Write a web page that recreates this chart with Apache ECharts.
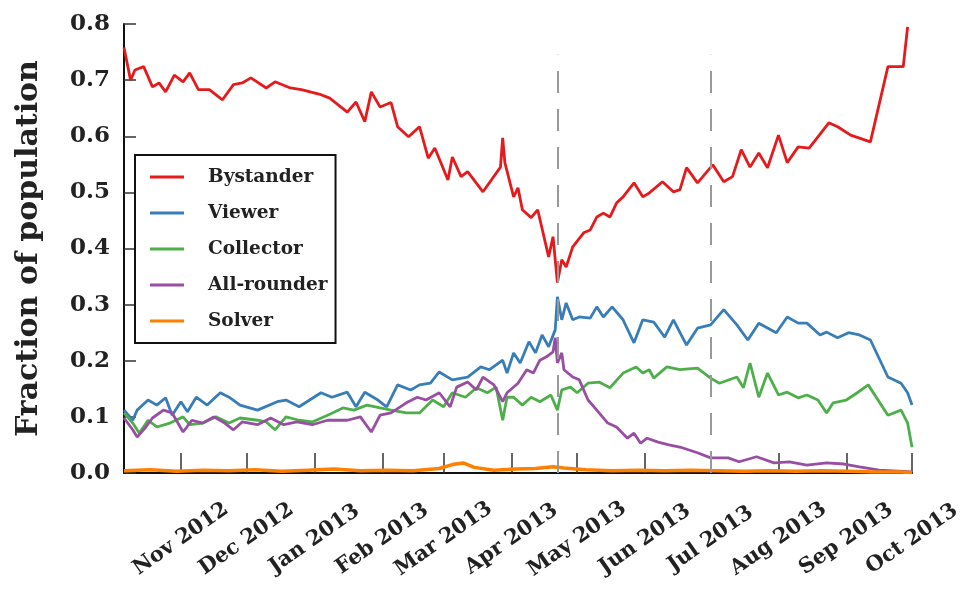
<!DOCTYPE html>
<html>
<head>
<meta charset="utf-8">
<title>Fraction of population by player type</title>
<script src="https://cdn.jsdelivr.net/npm/echarts@6/dist/echarts.min.js"></script>
<style>
  html, body { margin: 0; padding: 0; background: #ffffff; }
  #chart { width: 969px; height: 597px; }
</style>
</head>
<body>
<div id="chart"></div>
<script>
// Month ticks along the time axis and their labels
const monthTicks = ['2012-11-01', '2012-12-01', '2013-01-01', '2013-02-01', '2013-03-01', '2013-04-01',
  '2013-05-01', '2013-06-01', '2013-07-01', '2013-08-01', '2013-09-01', '2013-10-01'];
const monthLabels = ['Nov 2012', 'Dec 2012', 'Jan 2013', 'Feb 2013', 'Mar 2013', 'Apr 2013',
  'May 2013', 'Jun 2013', 'Jul 2013', 'Aug 2013', 'Sep 2013', 'Oct 2013'];
const yTicks = [0, 0.1, 0.2, 0.3, 0.4, 0.5, 0.6, 0.7, 0.8];
const dateRange = ['2012-10-06', '2013-10-01'];

// Dates marked with dashed vertical lines
const eventDates = ['2013-04-22', '2013-07-01'];

const seriesNames = ['Bystander', 'Viewer', 'Collector', 'All-rounder', 'Solver'];

const bystander = [
  ['2012-10-06', 0.758], ['2012-10-09', 0.700], ['2012-10-11', 0.718], ['2012-10-15', 0.724],
  ['2012-10-19', 0.688], ['2012-10-22', 0.695], ['2012-10-25', 0.679], ['2012-10-29', 0.709],
  ['2012-11-02', 0.697], ['2012-11-05', 0.713], ['2012-11-09', 0.683], ['2012-11-14', 0.683],
  ['2012-11-20', 0.665], ['2012-11-25', 0.692], ['2012-11-29', 0.695], ['2012-12-03', 0.704],
  ['2012-12-10', 0.686], ['2012-12-14', 0.697], ['2012-12-21', 0.686], ['2012-12-26', 0.683],
  ['2013-01-04', 0.674], ['2013-01-08', 0.668], ['2013-01-16', 0.643], ['2013-01-20', 0.661],
  ['2013-01-24', 0.626], ['2013-01-27', 0.679], ['2013-01-31', 0.652], ['2013-02-05', 0.660],
  ['2013-02-08', 0.617], ['2013-02-13', 0.599], ['2013-02-18', 0.617], ['2013-02-22', 0.561],
  ['2013-02-25', 0.579], ['2013-03-03', 0.522], ['2013-03-05', 0.563], ['2013-03-09', 0.528],
  ['2013-03-12', 0.537], ['2013-03-19', 0.501], ['2013-03-27', 0.545], ['2013-03-28', 0.597],
  ['2013-03-29', 0.553], ['2013-04-02', 0.492], ['2013-04-04', 0.508], ['2013-04-06', 0.469],
  ['2013-04-10', 0.455], ['2013-04-13', 0.469], ['2013-04-18', 0.385], ['2013-04-20', 0.421],
  ['2013-04-22', 0.339], ['2013-04-24', 0.380], ['2013-04-26', 0.367], ['2013-04-29', 0.403],
  ['2013-05-04', 0.428], ['2013-05-07', 0.433], ['2013-05-10', 0.456], ['2013-05-13', 0.463],
  ['2013-05-16', 0.456], ['2013-05-19', 0.481], ['2013-05-22', 0.492], ['2013-05-27', 0.517],
  ['2013-05-31', 0.492], ['2013-06-03', 0.499], ['2013-06-09', 0.519], ['2013-06-14', 0.501],
  ['2013-06-17', 0.505], ['2013-06-20', 0.544], ['2013-06-25', 0.517], ['2013-07-02', 0.549],
  ['2013-07-07', 0.519], ['2013-07-11', 0.528], ['2013-07-15', 0.576], ['2013-07-19', 0.545],
  ['2013-07-23', 0.570], ['2013-07-27', 0.544], ['2013-08-01', 0.602], ['2013-08-05', 0.553],
  ['2013-08-10', 0.581], ['2013-08-15', 0.579], ['2013-08-24', 0.624], ['2013-08-28', 0.617],
  ['2013-09-03', 0.602], ['2013-09-12', 0.590], ['2013-09-20', 0.724], ['2013-09-27', 0.724],
  ['2013-09-29', 0.795]
];

const viewer = [
  ['2012-10-06', 0.112], ['2012-10-10', 0.094], ['2012-10-12', 0.112], ['2012-10-17', 0.130],
  ['2012-10-21', 0.121], ['2012-10-25', 0.134], ['2012-10-28', 0.103], ['2012-11-01', 0.127],
  ['2012-11-04', 0.109], ['2012-11-08', 0.135], ['2012-11-13', 0.121], ['2012-11-19', 0.143],
  ['2012-11-23', 0.135], ['2012-11-28', 0.121], ['2012-12-06', 0.112], ['2012-12-15', 0.127],
  ['2012-12-19', 0.130], ['2012-12-25', 0.118], ['2013-01-04', 0.143], ['2013-01-09', 0.135],
  ['2013-01-16', 0.144], ['2013-01-20', 0.118], ['2013-01-24', 0.144], ['2013-01-30', 0.130],
  ['2013-02-03', 0.118], ['2013-02-08', 0.157], ['2013-02-14', 0.148], ['2013-02-18', 0.157],
  ['2013-02-23', 0.160], ['2013-02-27', 0.180], ['2013-03-05', 0.166], ['2013-03-12', 0.171],
  ['2013-03-18', 0.189], ['2013-03-22', 0.184], ['2013-03-28', 0.201], ['2013-03-30', 0.178],
  ['2013-04-02', 0.214], ['2013-04-05', 0.196], ['2013-04-09', 0.234], ['2013-04-12', 0.214],
  ['2013-04-15', 0.246], ['2013-04-18', 0.225], ['2013-04-21', 0.255], ['2013-04-22', 0.314],
  ['2013-04-24', 0.273], ['2013-04-26', 0.303], ['2013-04-29', 0.273], ['2013-05-02', 0.278],
  ['2013-05-07', 0.276], ['2013-05-10', 0.296], ['2013-05-13', 0.278], ['2013-05-17', 0.296],
  ['2013-05-22', 0.273], ['2013-05-27', 0.232], ['2013-05-31', 0.273], ['2013-06-05', 0.269],
  ['2013-06-10', 0.242], ['2013-06-14', 0.273], ['2013-06-20', 0.228], ['2013-06-25', 0.258],
  ['2013-07-01', 0.264], ['2013-07-07', 0.291], ['2013-07-13', 0.264], ['2013-07-18', 0.237],
  ['2013-07-23', 0.267], ['2013-07-31', 0.250], ['2013-08-05', 0.278], ['2013-08-10', 0.267],
  ['2013-08-14', 0.267], ['2013-08-20', 0.246], ['2013-08-23', 0.251], ['2013-08-28', 0.241],
  ['2013-09-02', 0.250], ['2013-09-07', 0.246], ['2013-09-12', 0.237], ['2013-09-20', 0.171],
  ['2013-09-26', 0.160], ['2013-09-29', 0.143], ['2013-10-01', 0.121]
];

const collector = [
  ['2012-10-06', 0.107], ['2012-10-10', 0.089], ['2012-10-13', 0.071], ['2012-10-17', 0.094],
  ['2012-10-21', 0.082], ['2012-10-27', 0.089], ['2012-11-02', 0.100], ['2012-11-05', 0.086],
  ['2012-11-11', 0.089], ['2012-11-17', 0.100], ['2012-11-23', 0.089], ['2012-11-28', 0.098],
  ['2012-12-06', 0.094], ['2012-12-10', 0.091], ['2012-12-14', 0.077], ['2012-12-19', 0.100],
  ['2012-12-25', 0.094], ['2012-12-31', 0.091], ['2013-01-07', 0.103], ['2013-01-14', 0.116],
  ['2013-01-19', 0.112], ['2013-01-25', 0.121], ['2013-01-31', 0.116], ['2013-02-05', 0.112],
  ['2013-02-12', 0.107], ['2013-02-18', 0.107], ['2013-02-24', 0.130], ['2013-03-01', 0.118],
  ['2013-03-05', 0.143], ['2013-03-11', 0.135], ['2013-03-16', 0.152], ['2013-03-21', 0.143],
  ['2013-03-25', 0.153], ['2013-03-28', 0.094], ['2013-03-30', 0.135], ['2013-04-02', 0.135],
  ['2013-04-06', 0.121], ['2013-04-10', 0.135], ['2013-04-14', 0.127], ['2013-04-19', 0.139],
  ['2013-04-22', 0.112], ['2013-04-24', 0.148], ['2013-04-28', 0.153], ['2013-05-01', 0.143],
  ['2013-05-06', 0.160], ['2013-05-11', 0.162], ['2013-05-16', 0.152], ['2013-05-22', 0.178],
  ['2013-05-28', 0.189], ['2013-05-31', 0.178], ['2013-06-03', 0.184], ['2013-06-05', 0.169],
  ['2013-06-11', 0.189], ['2013-06-17', 0.184], ['2013-06-25', 0.187], ['2013-07-01', 0.169],
  ['2013-07-05', 0.160], ['2013-07-13', 0.171], ['2013-07-16', 0.152], ['2013-07-19', 0.196],
  ['2013-07-23', 0.135], ['2013-07-27', 0.178], ['2013-08-01', 0.139], ['2013-08-05', 0.144],
  ['2013-08-10', 0.134], ['2013-08-14', 0.139], ['2013-08-19', 0.130], ['2013-08-23', 0.107],
  ['2013-08-26', 0.125], ['2013-09-01', 0.130], ['2013-09-06', 0.143], ['2013-09-11', 0.157],
  ['2013-09-20', 0.103], ['2013-09-26', 0.112], ['2013-09-29', 0.089], ['2013-10-01', 0.046]
];

const allRounder = [
  ['2012-10-06', 0.098], ['2012-10-10', 0.077], ['2012-10-12', 0.064], ['2012-10-16', 0.082],
  ['2012-10-19', 0.098], ['2012-10-24', 0.112], ['2012-10-28', 0.107], ['2012-11-02', 0.073],
  ['2012-11-06', 0.094], ['2012-11-11', 0.089], ['2012-11-16', 0.100], ['2012-11-21', 0.089],
  ['2012-11-25', 0.077], ['2012-11-29', 0.091], ['2012-12-06', 0.086], ['2012-12-12', 0.098],
  ['2012-12-18', 0.086], ['2012-12-24', 0.091], ['2012-12-31', 0.086], ['2013-01-07', 0.094],
  ['2013-01-16', 0.094], ['2013-01-22', 0.100], ['2013-01-27', 0.073], ['2013-01-31', 0.103],
  ['2013-02-05', 0.107], ['2013-02-12', 0.125], ['2013-02-17', 0.135], ['2013-02-21', 0.130],
  ['2013-02-27', 0.143], ['2013-03-04', 0.118], ['2013-03-07', 0.153], ['2013-03-12', 0.162],
  ['2013-03-16', 0.148], ['2013-03-19', 0.171], ['2013-03-24', 0.157], ['2013-03-28', 0.127],
  ['2013-03-30', 0.143], ['2013-04-04', 0.160], ['2013-04-08', 0.184], ['2013-04-11', 0.178],
  ['2013-04-14', 0.201], ['2013-04-17', 0.207], ['2013-04-20', 0.216], ['2013-04-21', 0.241],
  ['2013-04-22', 0.196], ['2013-04-24', 0.214], ['2013-04-25', 0.184], ['2013-04-29', 0.171],
  ['2013-05-02', 0.166], ['2013-05-06', 0.130], ['2013-05-10', 0.112], ['2013-05-15', 0.089],
  ['2013-05-19', 0.082], ['2013-05-24', 0.062], ['2013-05-27', 0.071], ['2013-05-30', 0.053],
  ['2013-06-02', 0.062], ['2013-06-07', 0.055], ['2013-06-12', 0.050], ['2013-06-18', 0.045],
  ['2013-06-25', 0.036], ['2013-07-01', 0.027], ['2013-07-09', 0.027], ['2013-07-14', 0.020],
  ['2013-07-22', 0.029], ['2013-07-30', 0.018], ['2013-08-06', 0.020], ['2013-08-14', 0.014],
  ['2013-08-23', 0.018], ['2013-08-31', 0.016], ['2013-09-07', 0.011], ['2013-09-16', 0.005],
  ['2013-10-01', 0.002]
];

const solver = [
  ['2012-10-06', 0.004], ['2012-10-18', 0.006], ['2012-10-30', 0.003], ['2012-11-11', 0.005],
  ['2012-11-23', 0.004], ['2012-12-05', 0.006], ['2012-12-17', 0.003], ['2012-12-29', 0.005],
  ['2013-01-10', 0.007], ['2013-01-22', 0.004], ['2013-02-03', 0.005], ['2013-02-15', 0.004],
  ['2013-02-27', 0.008], ['2013-03-05', 0.015], ['2013-03-10', 0.018], ['2013-03-15', 0.010],
  ['2013-03-24', 0.005], ['2013-04-03', 0.007], ['2013-04-12', 0.008], ['2013-04-20', 0.011],
  ['2013-04-25', 0.009], ['2013-05-05', 0.006], ['2013-05-17', 0.004], ['2013-05-29', 0.005],
  ['2013-06-10', 0.004], ['2013-06-22', 0.005], ['2013-07-04', 0.004], ['2013-07-16', 0.003],
  ['2013-07-28', 0.004], ['2013-08-09', 0.003], ['2013-08-21', 0.004], ['2013-09-02', 0.003],
  ['2013-09-14', 0.002], ['2013-09-26', 0.002], ['2013-10-01', 0.001]
];

const palette = ['#e41a1c', '#377eb8', '#4daf4a', '#984ea3', '#ff7f00'];
const serif = "'DejaVu Serif', 'Liberation Serif', serif";

// Dates are turned into local-time millisecond stamps for a numeric x axis
function toTime(s) {
  const p = s.split('-').map(Number);
  return new Date(p[0], p[1] - 1, p[2]).getTime();
}
const tickTimes = monthTicks.map(toTime);
const asPoints = rows => rows.map(r => [toTime(r[0]), r[1]]);

function lineSeries(name, rows, color, width) {
  return {
    name: name,
    type: 'line',
    data: asPoints(rows),
    showSymbol: false,
    symbol: 'none',
    lineStyle: { color: color, width: width || 2.8 },
    itemStyle: { color: color },
    z: 3
  };
}

const chart = echarts.init(document.getElementById('chart'), null, { renderer: 'canvas' });

chart.setOption({
  backgroundColor: '#ffffff',
  animation: false,
  color: palette,
  grid: { left: 124, right: 57, top: 24, bottom: 124, containLabel: false },
  legend: {
    data: seriesNames,
    orient: 'vertical',
    left: 135,
    top: 155,
    backgroundColor: '#ffffff',
    borderColor: '#111111',
    borderWidth: 2,
    borderRadius: 0,
    padding: [12, 8, 12, 15],
    itemGap: 16,
    itemWidth: 34,
    itemHeight: 3,
    icon: 'rect',
    selectedMode: false,
    textStyle: {
      fontFamily: serif,
      fontWeight: 'bold',
      fontSize: 18.5,
      color: '#222222',
      lineHeight: 20,
      padding: [0, 0, 0, 19]
    }
  },
  xAxis: {
    type: 'value',
    min: toTime(dateRange[0]),
    max: toTime(dateRange[1]),
    axisLine: { show: true, onZero: false, lineStyle: { color: '#111111', width: 2 } },
    axisTick: {
      show: true,
      inside: true,
      length: 20,
      customValues: tickTimes,
      lineStyle: { color: '#333333', width: 1.5 }
    },
    axisLabel: {
      show: true,
      customValues: tickTimes,
      rotate: 35,
      align: 'center',
      verticalAlign: 'middle',
      margin: 66,
      hideOverlap: false,
      fontFamily: serif,
      fontWeight: 'bold',
      fontSize: 21,
      color: '#222222',
      formatter: function (v) {
        let best = 0;
        for (let i = 1; i < tickTimes.length; i++) {
          if (Math.abs(tickTimes[i] - v) < Math.abs(tickTimes[best] - v)) best = i;
        }
        return monthLabels[best];
      }
    },
    splitLine: { show: false }
  },
  yAxis: {
    type: 'value',
    min: 0,
    max: 0.8,
    interval: 0.1,
    name: 'Fraction of population',
    nameLocation: 'middle',
    nameGap: 80,
    nameRotate: 90,
    nameTextStyle: { fontFamily: serif, fontWeight: 'bold', fontSize: 30, color: '#222222' },
    axisLine: { show: true, lineStyle: { color: '#111111', width: 2 } },
    axisTick: { show: true, inside: true, length: 12, lineStyle: { color: '#333333', width: 1.5 } },
    axisLabel: {
      margin: 14,
      fontFamily: serif,
      fontWeight: 'bold',
      fontSize: 23,
      color: '#222222',
      formatter: function (v) {
        const i = yTicks.findIndex(t => Math.abs(t - v) < 1e-9);
        return (i >= 0 ? yTicks[i] : v).toFixed(1);
      }
    },
    splitLine: { show: false }
  },
  series: [
    {
      name: 'events',
      type: 'line',
      data: [],
      z: 1,
      silent: true,
      markLine: {
        silent: true,
        symbol: 'none',
        label: { show: false },
        lineStyle: { color: '#999999', width: 2, type: [22, 16] },
        data: eventDates.map(d => [{ coord: [toTime(d), 0] }, { coord: [toTime(d), 0.745] }])
      }
    },
    lineSeries('Bystander', bystander, palette[0]),
    lineSeries('Viewer', viewer, palette[1]),
    lineSeries('Collector', collector, palette[2]),
    lineSeries('All-rounder', allRounder, palette[3]),
    lineSeries('Solver', solver, palette[4], 3.5)
  ]
});
</script>
</body>
</html>
